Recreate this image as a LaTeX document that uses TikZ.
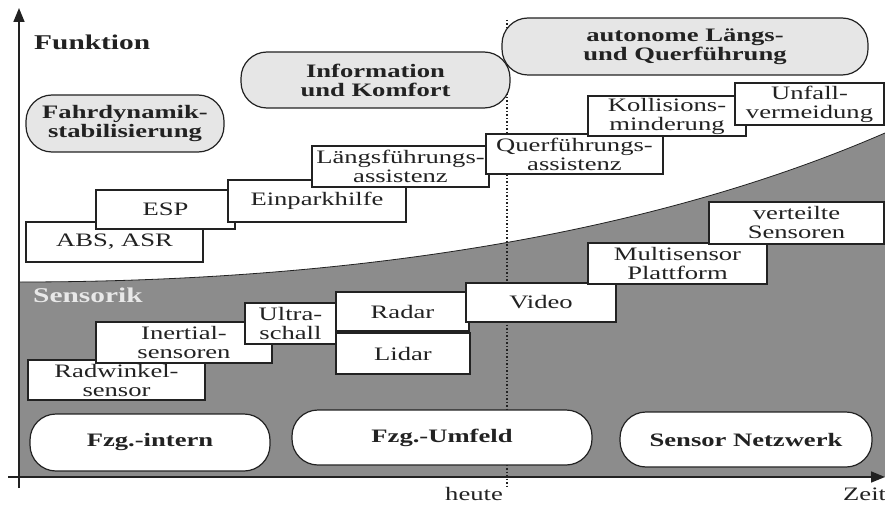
\documentclass[tikz,border=0pt]{standalone}
\usepackage{fontspec}
\setmainfont{Liberation Serif}[FakeStretch=1.4]
\usetikzlibrary{arrows.meta}
\definecolor{ink}{HTML}{222222}
\definecolor{area}{HTML}{8C8C8C}
\definecolor{pale}{HTML}{E6E6E6}
\definecolor{labgrey}{HTML}{E8E8E8}
\begin{document}
\begin{tikzpicture}[x=1pt,y=-1pt,
  box/.style={draw=ink, line width=1.2pt, fill=white, inner sep=0pt, align=center,
    text=ink, font=\fontsize{19}{19}\selectfont},
  pill/.style={draw=ink, line width=1.2pt, rounded corners=26pt, inner sep=0pt,
    align=center, text=ink, font=\fontsize{19}{19}\selectfont\bfseries},
  toppill/.style={pill, fill=pale},
  botpill/.style={pill, fill=white},
  axislabel/.style={inner sep=0pt, text=ink, font=\fontsize{19}{19}\selectfont},
  biglabel/.style={inner sep=0pt, font=\fontsize{21}{21}\selectfont\bfseries},
]
\useasboundingbox (0,0) rectangle (885,505);

% grey sensor area
\coordinate (gl) at (19,282);
\coordinate (gr) at (885,133);
\fill[area] (19,477) -- (gl) .. controls (350,282) and (650,235) .. (gr) -- (885,477) -- cycle;
\draw[ink, line width=0.8pt] (gl) .. controls (350,282) and (650,235) .. (gr);

% today line
\coordinate (ht) at (507,20);
\coordinate (hb) at (507,486);
\draw[ink, line width=1.5pt, dotted] (ht) -- (hb);

% axes
\coordinate (xa) at (8,477);
\coordinate (xb) at (885,477);
\coordinate (ya) at (19,488);
\coordinate (yb) at (19,8);
\draw[ink, line width=1.6pt, -{Triangle[length=14pt,width=11pt]}] (xa) -- (xb);
\draw[ink, line width=1.6pt, -{Triangle[length=14pt,width=11pt]}] (ya) -- (yb);

% upper category pills
\node[toppill, minimum width=198pt, minimum height=57pt] (fahr) at (125,123.5) {Fahrdynamik-\\stabilisierung};
\node[toppill, minimum width=269pt, minimum height=56pt] (info) at (375.5,80) {Information\\und Komfort};
\node[toppill, minimum width=366pt, minimum height=57pt] (auto) at (685,46.5) {autonome Längs-\\und Querführung};

% function boxes
\node[box, minimum width=177pt, minimum height=40pt] (abs) at (114.5,242) {ABS, ASR};
\node[box, minimum width=139pt, minimum height=39pt] (esp) at (165.5,209.5) {ESP};
\node[box, minimum width=178pt, minimum height=42pt] (einp) at (317,201) {Einparkhilfe};
\node[box, minimum width=177pt, minimum height=41pt] (laengs) at (400.5,166.5) {Längsführungs-\\assistenz};
\node[box, minimum width=177pt, minimum height=40pt] (quer) at (574.5,154) {Querführungs-\\assistenz};
\node[box, minimum width=158pt, minimum height=40pt] (koll) at (667,116) {Kollisions-\\minderung};
\node[box, minimum width=149pt, minimum height=42pt] (unf) at (809.5,104) {Unfall-\\vermeidung};

% sensor boxes
\node[box, minimum width=177pt, minimum height=40pt] (radw) at (116.5,380) {Radwinkel-\\sensor};
\node[box, minimum width=176pt, minimum height=41pt] (inert) at (184,342.5) {Inertial-\\sensoren};
\node[box, minimum width=91pt, minimum height=41pt] (ultra) at (290.5,323.5) {Ultra-\\schall};
\node[box, minimum width=133pt, minimum height=39pt] (radar) at (402.5,311.5) {Radar};
\node[box, minimum width=134pt, minimum height=41pt] (lidar) at (403,353.5) {Lidar};
\node[box, minimum width=150pt, minimum height=39pt] (video) at (541,302.5) {Video};
\node[box, minimum width=179pt, minimum height=41pt] (multi) at (677.5,263.5) {Multisensor\\Plattform};
\node[box, minimum width=175pt, minimum height=42pt] (vert) at (796.5,223) {verteilte\\Sensoren};

% lower category pills
\node[botpill, minimum width=240pt, minimum height=57pt] (intern) at (150,442.5) {Fzg.-intern};
\node[botpill, minimum width=300pt, minimum height=55pt] (umfeld) at (442,437.5) {Fzg.-Umfeld};
\node[botpill, minimum width=252pt, minimum height=55pt] (netz) at (746,439.5) {Sensor Netzwerk};

% labels
\node[biglabel, text=ink, anchor=west] (funk) at (34,42) {Funktion};
\node[biglabel, text=labgrey, anchor=west] (sens) at (33,295) {Sensorik};
\node[axislabel, anchor=east] (heute) at (503,494) {heute};
\node[axislabel, anchor=west] (zeit) at (843,494) {Zeit};
\end{tikzpicture}
\end{document}
